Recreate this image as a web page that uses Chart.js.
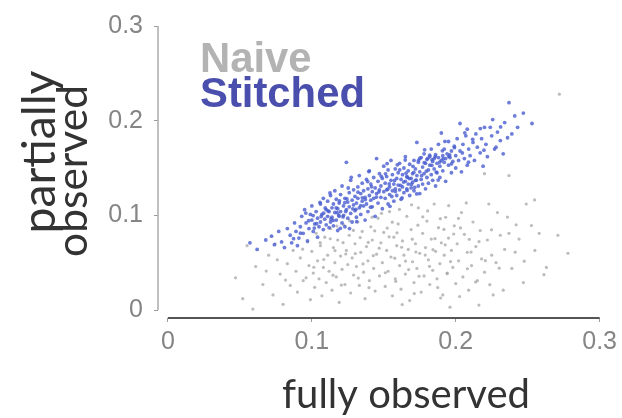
<!DOCTYPE html>
<html><head><meta charset="utf-8">
<script src="https://cdn.jsdelivr.net/npm/chart.js@4/dist/chart.umd.min.js"></script>
<style>html,body{margin:0;padding:0;background:#fff;}canvas{display:block;}</style>
</head><body>
<canvas id="c" width="622" height="418"></canvas>
<script>
const seriesNames = ['Stitched', 'Naive'];
const tickValues = [0, 0.1, 0.2, 0.3];
const tickLabels = ['0', '0.1', '0.2', '0.3'];
const xTitle = 'fully observed';
const yTitle = ['partially', 'observed'];

const stitchedPoints = [
[0.057,0.071],[0.062,0.064],[0.068,0.074],[0.072,0.078],[0.074,0.069],[0.077,0.083],[0.079,0.072],[0.081,0.066],[0.083,0.086],[0.085,0.079],[0.086,0.071],[0.088,0.092],[0.089,0.083],[0.090,0.068],[0.091,0.076],
[0.092,0.088],[0.093,0.099],[0.094,0.081],[0.095,0.106],[0.096,0.092],[0.097,0.073],[0.098,0.086],[0.099,0.101],[0.100,0.095],[0.100,0.110],[0.101,0.083],[0.102,0.091],[0.103,0.104],[0.104,0.097],[0.104,0.077],[0.105,0.088],[0.106,0.112],[0.106,0.093],[0.107,0.101],[0.108,0.085],[0.108,0.118],[0.109,0.096],[0.110,0.106],[0.110,0.090],
[0.111,0.099],[0.111,0.115],[0.112,0.087],[0.112,0.104],[0.113,0.093],[0.113,0.121],[0.114,0.108],[0.114,0.098],[0.115,0.112],[0.115,0.089],[0.116,0.103],[0.116,0.126],[0.117,0.095],[0.117,0.117],[0.118,0.107],[0.118,0.084],[0.119,0.099],[0.119,0.113],[0.120,0.122],[0.120,0.104],[0.121,0.092],[0.121,0.131],[0.122,0.110],[0.122,0.100],[0.123,0.118],[0.123,0.088],[0.124,0.106],[0.124,0.156],[0.125,0.114],[0.125,0.097],[0.126,0.124],[0.126,0.109],[0.127,0.102],[0.127,0.137],[0.128,0.116],[0.128,0.093],[0.129,0.111],[0.129,0.127],[0.130,0.105],[0.130,0.120],
[0.131,0.113],[0.131,0.098],[0.132,0.130],[0.132,0.118],[0.133,0.108],[0.133,0.142],[0.134,0.123],[0.134,0.101],[0.135,0.115],[0.135,0.134],[0.136,0.110],[0.136,0.126],[0.137,0.119],[0.137,0.095],[0.138,0.138],[0.138,0.112],[0.139,0.128],[0.139,0.104],[0.140,0.121],[0.140,0.147],[0.141,0.116],[0.141,0.133],[0.142,0.109],[0.142,0.125],[0.143,0.140],[0.143,0.118],[0.144,0.129],[0.144,0.099],[0.145,0.160],[0.145,0.123],[0.146,0.113],[0.146,0.136],[0.147,0.127],[0.147,0.144],[0.148,0.119],[0.148,0.131],[0.149,0.107],[0.149,0.139],[0.150,0.125],[0.150,0.152],
[0.151,0.118],[0.151,0.134],[0.152,0.141],[0.152,0.127],[0.153,0.112],[0.153,0.148],[0.154,0.130],[0.154,0.122],[0.155,0.137],[0.155,0.158],[0.156,0.126],[0.156,0.143],[0.157,0.115],[0.157,0.133],[0.158,0.149],[0.158,0.128],[0.159,0.139],[0.159,0.121],[0.160,0.145],[0.160,0.132],[0.161,0.155],[0.161,0.127],[0.162,0.138],[0.162,0.117],[0.163,0.143],[0.163,0.130],[0.164,0.150],[0.164,0.124],[0.165,0.136],[0.165,0.162],[0.166,0.141],[0.166,0.128],[0.167,0.147],[0.167,0.133],[0.168,0.121],[0.168,0.154],[0.169,0.139],[0.169,0.129],[0.170,0.144],[0.170,0.135],
[0.171,0.158],[0.171,0.126],[0.172,0.149],[0.172,0.137],[0.173,0.177],[0.173,0.142],[0.174,0.131],[0.174,0.156],[0.175,0.146],[0.175,0.123],[0.176,0.138],[0.176,0.161],[0.177,0.151],[0.177,0.133],[0.178,0.144],[0.178,0.165],[0.179,0.128],[0.179,0.155],[0.180,0.140],[0.180,0.159],[0.181,0.148],[0.181,0.134],[0.182,0.162],[0.182,0.153],[0.183,0.143],[0.183,0.170],[0.184,0.157],[0.184,0.137],[0.185,0.160],[0.185,0.149],[0.186,0.164],[0.186,0.131],[0.187,0.155],[0.187,0.145],[0.188,0.161],[0.188,0.175],[0.189,0.152],[0.189,0.140],[0.190,0.187],[0.190,0.158],
[0.191,0.163],[0.191,0.147],[0.192,0.156],[0.192,0.170],[0.193,0.160],[0.193,0.136],[0.194,0.165],[0.195,0.153],[0.195,0.178],[0.196,0.161],[0.197,0.145],[0.197,0.168],[0.198,0.157],[0.199,0.173],[0.200,0.150],[0.200,0.163],[0.201,0.181],[0.202,0.158],[0.203,0.197],[0.203,0.168],[0.204,0.146],[0.205,0.175],[0.206,0.160],[0.207,0.184],[0.208,0.191],[0.208,0.153],[0.209,0.170],[0.210,0.163],
[0.212,0.177],[0.213,0.158],[0.214,0.186],[0.215,0.172],[0.217,0.166],[0.218,0.181],[0.219,0.152],[0.220,0.193],[0.221,0.175],[0.222,0.162],[0.224,0.193],[0.225,0.184],[0.227,0.170],[0.228,0.172],[0.229,0.188],[0.231,0.179],[0.233,0.165],[0.234,0.198],[0.236,0.182],[0.237,0.219],[0.239,0.186],[0.241,0.205],[0.243,0.193],[0.247,0.208],[0.253,0.197],
[0.1034,0.0912],[0.1187,0.1003],[0.1262,0.0861],[0.1321,0.1245],[0.1093,0.1078],[0.1415,0.1302],[0.1148,0.0947],[0.1556,0.1199],[0.1229,0.1134],[0.1677,0.1389],[0.1372,0.1167],[0.1483,0.1412],[0.1611,0.1481],[0.1715,0.1296],[0.1834,0.1528],[0.1952,0.1624],[0.1796,0.1467],[0.1889,0.1563],[0.1751,0.1603],[0.1638,0.1352],
[0.1527,0.1276],[0.1449,0.1193],[0.1306,0.1064],[0.1192,0.1153],[0.1065,0.0988],[0.0978,0.0943],[0.0921,0.0812],[0.0873,0.0754],[0.0958,0.1024],[0.1126,0.1237],[0.1253,0.1289],[0.1388,0.1357],[0.1512,0.1439],[0.1594,0.1534],[0.1703,0.1518],[0.1819,0.1636],[0.1907,0.1682],[0.1991,0.1715],[0.2046,0.1659],[0.2118,0.1803],
[0.1864,0.1457],[0.1763,0.1419],[0.1662,0.1263],[0.1575,0.1368],[0.1466,0.1248],[0.1351,0.1185],[0.1236,0.1041],[0.1169,0.1079],[0.1082,0.1023],[0.1017,0.0866],[0.1408,0.1086],[0.1543,0.1095],[0.1627,0.1184],[0.1729,0.1226],[0.1312,0.0933],[0.1198,0.0863],[0.1274,0.1402],[0.1396,0.1463],[0.1523,0.1547],[0.1649,0.1585],
[0.1784,0.1692],[0.1925,0.1781],[0.2063,0.1872],[0.2171,0.1917],[0.2257,0.2012],[0.2312,0.1934],[0.1971,0.1545],[0.1878,0.1373],[0.2089,0.1562],[0.2196,0.1688],
[0.1742,0.1581],[0.1806,0.1602],[0.1857,0.1619],[0.1913,0.1598],[0.1958,0.1638],[0.1781,0.1556],[0.1835,0.1587],[0.1664,0.1403],[0.1692,0.1327],[0.1726,0.1372],[0.1617,0.1316],[0.1581,0.1251],[0.1655,0.1446],[0.1709,0.1455],[0.1538,0.1332],[0.1285,0.1069],[0.1217,0.0984],[0.1133,0.0962],[0.1176,0.1028],[0.1244,0.1173],[0.1339,0.1102],[0.1113,0.1047],[0.1057,0.1136],[0.1009,0.0998]
];

const naivePoints = [
[0.047,0.034],[0.052,0.012],[0.055,0.068],[0.059,0.001],[0.061,0.046],[0.066,0.027],[0.070,0.058],[0.073,0.016],[0.076,0.053],[0.078,0.038],[0.080,0.006],[0.083,0.049],[0.085,0.026],[0.087,0.063],[0.089,0.041],[0.090,0.019],[0.092,0.055],[0.094,0.031],[0.096,0.034],[0.097,0.072],[0.098,0.047],[0.099,0.011],
[0.100,0.062],[0.101,0.039],[0.102,0.024],[0.103,0.081],[0.104,0.052],[0.105,0.033],[0.106,0.068],[0.107,0.015],[0.108,0.045],[0.109,0.077],[0.110,0.029],[0.111,0.058],[0.112,0.041],[0.113,0.086],[0.114,0.021],[0.115,0.066],[0.116,0.050],[0.117,0.035],[0.118,0.074],[0.119,0.008],[0.120,0.057],[0.121,0.043],[0.122,0.090],[0.123,0.027],[0.124,0.063],[0.125,0.048],[0.126,0.079],[0.127,0.018],[0.128,0.055],[0.129,0.037],[0.130,0.070],
[0.131,0.046],[0.132,0.093],[0.133,0.026],[0.134,0.061],[0.135,0.083],[0.136,0.040],[0.137,0.012],[0.138,0.067],[0.139,0.052],[0.140,0.031],[0.141,0.088],[0.142,0.074],[0.143,0.044],[0.144,0.020],[0.145,0.059],[0.146,0.097],[0.147,0.036],[0.148,0.071],[0.149,0.050],[0.150,0.082],[0.151,0.025],[0.152,0.063],[0.153,0.041],[0.154,0.104],[0.155,0.056],[0.156,0.015],[0.157,0.077],[0.158,0.033],[0.159,0.068],[0.160,0.091],
[0.161,0.047],[0.162,0.022],[0.163,0.073],[0.164,0.058],[0.165,0.038],[0.166,0.099],[0.167,0.064],[0.168,0.010],[0.169,0.085],[0.170,0.051],[0.171,0.029],[0.172,0.070],[0.173,0.044],[0.174,0.108],[0.175,0.060],[0.176,0.019],[0.177,0.081],[0.178,0.036],[0.179,0.066],[0.180,0.094],[0.181,0.053],[0.182,0.027],[0.183,0.075],[0.184,0.042],[0.185,0.112],[0.186,0.062],[0.187,0.033],[0.188,0.087],[0.189,0.049],[0.190,0.071],
[0.191,0.016],[0.192,0.058],[0.193,0.098],[0.194,0.039],[0.195,0.076],[0.196,0.003],[0.197,0.063],[0.198,0.045],[0.199,0.089],[0.200,0.028],[0.201,0.070],[0.202,0.052],[0.204,0.103],[0.205,0.035],[0.206,0.080],[0.208,0.061],[0.209,0.021],[0.211,0.047],[0.212,0.093],[0.214,0.067],[0.215,0.031],[0.217,0.084],[0.218,0.054],[0.220,0.144],[0.220,0.040],
[0.222,0.074],[0.223,0.112],[0.225,0.058],[0.226,0.016],[0.228,0.050],[0.229,0.103],[0.231,0.079],[0.233,0.021],[0.234,0.064],[0.237,0.081],[0.237,0.142],[0.239,0.044],[0.242,0.090],[0.244,0.075],[0.247,0.029],[0.249,0.112],[0.255,0.063],[0.258,0.081],[0.263,0.045],[0.271,0.079],[0.272,0.228],[0.278,0.060],
[0.1083,0.0534],[0.1217,0.0712],[0.1356,0.0487],[0.1468,0.0653],[0.1592,0.0816],[0.1673,0.0427],[0.1788,0.0581],[0.1856,0.0754],[0.1964,0.0512],[0.2033,0.0867],[0.1147,0.0368],[0.1289,0.0841],[0.1392,0.0715],[0.1511,0.0394],[0.1624,0.0663],[0.1737,0.0896],[0.1818,0.0462],[0.1927,0.0689],[0.2081,0.0436],[0.2162,0.0723],
[0.1236,0.0592],[0.1323,0.0338],[0.1437,0.0837],[0.1559,0.0928],[0.1698,0.0748],[0.1745,0.0357],[0.1893,0.0965],[0.1986,0.0803],[0.2107,0.0612],[0.2249,0.0847],[0.1058,0.0712],[0.1174,0.0887],[0.1302,0.0596],[0.1419,0.0981],[0.1537,0.0773],[0.1651,0.0517],[0.1771,0.0985],[0.1842,0.0638],[0.1918,0.0852],[0.2019,0.0968],
[0.0936,0.0643],[0.1014,0.0452],[0.1397,0.0236],[0.1583,0.0303],[0.1712,0.0174],[0.1875,0.0237],[0.2027,0.0143],[0.2138,0.0296],[0.2206,0.0521],[0.2302,0.0442],[0.1262,0.0944],[0.1484,0.1022],[0.1609,0.1063],[0.1805,0.1047],[0.1951,0.1102],[0.2073,0.1131],[0.1693,0.1112],[0.1524,0.0866],[0.1336,0.0765],[0.1161,0.0628],
[0.2359,0.0982],[0.2413,0.0611],[0.2526,0.0893],[0.2476,0.0516],[0.2613,0.0374],[0.0683,0.0412],[0.0817,0.0317],[0.0745,0.0698],[0.1895,0.0127],[0.1628,0.0058],[0.2161,0.0052],[0.1427,0.0574],[0.1576,0.0548],[0.1723,0.0613],[0.1941,0.0384],[0.2094,0.0747],[0.1205,0.0264],[0.1128,0.0753],[0.2237,0.0268],[0.2548,0.1163]
];

function fitSize(ctx, text, weight, family, target) {
  ctx.font = weight + ' 100px ' + family;
  return 100 * target / ctx.measureText(text).width;
}

const decor = {
  id: 'decor',
  afterDraw(chart) {
    const { ctx, chartArea } = chart;
    const x = chart.scales.x, y = chart.scales.y;
    const v0 = tickValues[0], v1 = tickValues[tickValues.length - 1];
    ctx.save();
    ctx.strokeStyle = '#ababab'; ctx.lineWidth = 1.5;
    ctx.beginPath();
    ctx.moveTo(chartArea.left, y.getPixelForValue(v1));
    ctx.lineTo(chartArea.left, y.getPixelForValue(v0));
    ctx.stroke();
    ctx.strokeStyle = '#555'; ctx.lineWidth = 2;
    ctx.beginPath();
    ctx.moveTo(x.getPixelForValue(v0), chartArea.bottom);
    ctx.lineTo(x.getPixelForValue(v1), chartArea.bottom);
    ctx.stroke();

    const legendColors = { 'Naive': '#b3b3b3', 'Stitched': '#4a4eac' };
    const lgSize = fitSize(ctx, seriesNames[0], 'bold', '"Liberation Sans", Arial, sans-serif', 165);
    ctx.font = 'bold ' + lgSize + 'px "Liberation Sans", Arial, sans-serif';
    ctx.textAlign = 'left'; ctx.textBaseline = 'alphabetic';
    ctx.fillStyle = legendColors[seriesNames[1]];
    ctx.fillText(seriesNames[1], 200, 72);
    ctx.fillStyle = legendColors[seriesNames[0]];
    ctx.fillText(seriesNames[0], 200, 107);

    const fam = 'Lato, "Open Sans", sans-serif';
    const xs = fitSize(ctx, xTitle, 'normal', fam, 248);
    ctx.font = xs + 'px ' + fam;
    ctx.fillStyle = '#333';
    ctx.textAlign = 'center';
    ctx.fillText(xTitle, 406, 408);

    const ys1 = fitSize(ctx, yTitle[0], 'normal', fam, 163);
    const ys2 = fitSize(ctx, yTitle[1], 'normal', fam, 172);
    ctx.textBaseline = 'middle';
    ctx.save();
    ctx.translate(40, 152); ctx.rotate(-Math.PI / 2);
    ctx.font = ys1 + 'px ' + fam;
    ctx.fillText(yTitle[0], 0, 0);
    ctx.restore();
    ctx.save();
    ctx.translate(73, 171); ctx.rotate(-Math.PI / 2);
    ctx.font = ys2 + 'px ' + fam;
    ctx.fillText(yTitle[1], 0, 0);
    ctx.restore();
    ctx.restore();
  }
};

const tickFont = { family: '"Liberation Sans", Arial, sans-serif', size: 25 };
const setTicks = s => { s.ticks = tickValues.map(v => ({ value: v })); };
const labelFor = v => { const i = tickValues.findIndex(t => Math.abs(t - v) < 1e-9); return i >= 0 ? tickLabels[i] : ''; };

new Chart(document.getElementById('c'), {
  type: 'scatter',
  data: {
    datasets: [
      { label: seriesNames[0], data: stitchedPoints.map(p => ({ x: p[0], y: p[1] })),
        backgroundColor: 'rgba(72,92,208,0.8)', borderWidth: 0, pointRadius: 1.9, order: 0 },
      { label: seriesNames[1], data: naivePoints.map(p => ({ x: p[0], y: p[1] })),
        backgroundColor: 'rgba(165,165,165,0.75)', borderWidth: 0, pointRadius: 1.6, order: 1 }
    ]
  },
  options: {
    responsive: false, animation: false, devicePixelRatio: 1,
    layout: { padding: { top: 25, right: 22, bottom: 0, left: 0 } },
    plugins: { legend: { display: false }, tooltip: { enabled: false } },
    scales: {
      x: {
        type: 'linear', min: -0.0069, max: 0.3,
        afterBuildTicks: setTicks,
        afterFit: s => { s.height = 100; },
        ticks: { callback: v => labelFor(v), font: tickFont, color: '#858585', padding: 5, maxRotation: 0, autoSkip: false },
        grid: { drawOnChartArea: false, drawTicks: true, tickLength: 4, color: '#9a9a9a' },
        border: { display: false }
      },
      y: {
        type: 'linear', min: -0.0084, max: 0.3,
        afterBuildTicks: setTicks,
        afterFit: s => { s.width = 158; },
        ticks: { callback: v => labelFor(v), font: tickFont, color: '#858585', padding: 11, autoSkip: false },
        grid: { drawOnChartArea: false, drawTicks: true, tickLength: 4, color: '#9a9a9a' },
        border: { display: false }
      }
    }
  },
  plugins: [decor]
});
</script>
</body></html>
